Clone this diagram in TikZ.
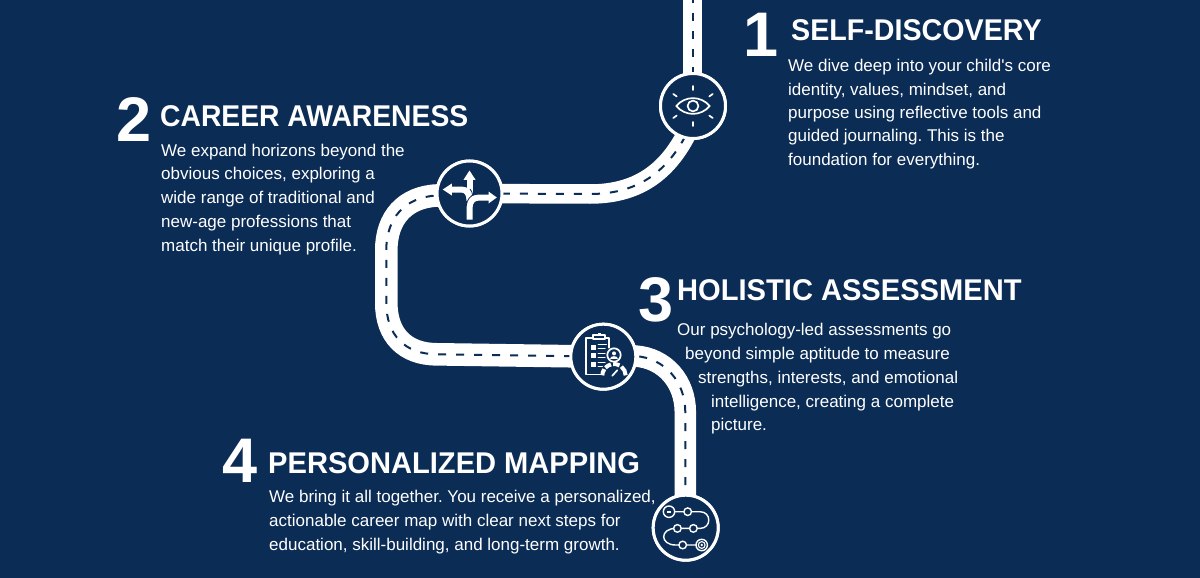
\documentclass[tikz,border=0pt]{standalone}
\usepackage{fontspec}
\setmainfont{Liberation Sans}
\newfontfamily\plainbody{Liberation Sans}
\newfontfamily\headA[FakeStretch=0.955]{Liberation Sans}
\newfontfamily\headB[FakeStretch=0.943]{Liberation Sans}
\newfontfamily\headC[FakeStretch=0.97]{Liberation Sans}
\frenchspacing
\definecolor{navy}{HTML}{0B2C55}
\tikzset{
  x=1pt,y=-1pt,
  lane/.style={draw=navy,line width=2pt,dash pattern=on 8pt off 10pt},
  hub/.style={circle,draw=white,line width=3pt,fill=navy,minimum size=65pt,inner sep=0pt},
  num/.style={text=white,font=\fontsize{63}{63}\selectfont\bfseries,inner sep=0pt,anchor=base west},
  head/.style={text=white,font=\fontsize{30}{30}\selectfont\bfseries,inner sep=0pt,anchor=base west},
  body/.style={text=white,font=\fontsize{17}{23.7}\selectfont,inner sep=0pt,anchor=base west,align=left},
  ico/.style={draw=white,line width=1.7pt,line cap=round,line join=round},
  thin/.style={draw=white,line width=1.4pt,line cap=round},
  arrowline/.style={draw=white,line width=6pt},
  gauge/.style={draw=white,line width=4pt},
}
\begin{document}
\begin{tikzpicture}
\useasboundingbox (0,0) rectangle (1200,578);
\fill[navy] (0,0) rectangle (1200,578);
\coordinate (top) at (692.5,-5);
\node[hub] (h1) at (693,106) {};
\node[hub] (h2) at (469.5,193.5) {};
\node[hub] (h3) at (603.3,356.7) {};
\node[hub] (h4) at (685.7,527.7) {};
\draw[white,line width=19.5pt] (top) -- (692.5,106);
\draw[white,line width=19.5pt] (693,120) .. controls (672,170) and (640,194) .. (590,194) -- (h2.center);
\draw[white,line width=22.6pt] (h2.center) -- (437,195.5) .. controls (405,197) and (386.3,218) .. (386.3,250) -- (386.3,303) .. controls (386.3,335) and (405,354.3) .. (437,354.3) -- (h3.center);
\draw[white,line width=21.5pt] (h3.center) -- (635,356) .. controls (665,358) and (685.3,382) .. (685.3,412) -- (685.3,527.7);
\draw[lane] (top) -- (692.5,106);
\draw[lane] (693,120) .. controls (672,170) and (640,194) .. (590,194) -- (h2.center);
\draw[lane] (h2.center) -- (437,195.5) .. controls (405,197) and (386.3,218) .. (386.3,250) -- (386.3,303) .. controls (386.3,335) and (405,354.3) .. (437,354.3) -- (h3.center);
\draw[lane] (h3.center) -- (635,356) .. controls (665,358) and (685.3,382) .. (685.3,412) -- (685.3,527.7);
\foreach \n in {h1,h2,h3,h4}{\node[hub] at (\n) {};}
% eye
\begin{scope}[shift={(h1)}]
\draw[ico] (-16.7,0) .. controls (-8,-10.5) and (8,-10.5) .. (16.7,0) .. controls (8,10.5) and (-8,10.5) .. (-16.7,0) -- cycle;
\draw[ico] (0,0) circle (5.4);
\draw[ico] (0,-20) -- (0,-16) (0,16) -- (0,20) (-19.7,-12) -- (-16.3,-9.6) (19.7,-12) -- (16.3,-9.6) (-19.7,12) -- (-16.3,9.6) (19.7,12) -- (16.3,9.6);
\end{scope}
% arrows
\begin{scope}[shift={(h2)}]
\draw[arrowline] (0,-14) -- (0,10);
\draw[arrowline] (-18,-4) -- (-8,-4) .. controls (-3,-4) and (0,0) .. (0,7);
\draw[navy,line width=.8pt] (0.5,-4.5) .. controls (2,-3) and (3,-0.5) .. (3.2,2);
\draw[arrowline] (0,26) -- (0,15) .. controls (0,8) and (3,4) .. (10,4) -- (20,4);
\draw[navy,line width=.8pt] (-3.2,12) .. controls (-2.5,6) and (1,1.8) .. (6,0.5);
\fill[white] (19,-2) -- (27.3,4) -- (19,10) -- cycle;
\fill[white] (-17.7,-10) -- (-26.7,-4) -- (-17.7,2) -- cycle;
\fill[white] (-6,-13.7) -- (0,-23) -- (6,-13.7) -- cycle;
\end{scope}
% clipboard
\begin{scope}[shift={(h3)}]
\draw[ico] (-4,-19) -- (-17,-19) -- (-17,17.7) -- (0,17.7);
\draw[ico] (-4,-19) -- (5.5,-19) -- (5.5,-9);
\draw[ico,fill=navy] (-10,-20) -- (-10,-22) -- (2,-22) -- (2,-18) -- (-10,-18) -- cycle;
\fill[white] (-5.5,-24) rectangle (-2.5,-21);
\fill[white] (-12.7,-11.7) rectangle (-7.7,-7);
\fill[white] (-12.7,-3.3) rectangle (-7.7,1.7);
\fill[white] (-12.7,5) rectangle (-7.7,10);
\draw[thin] (-5,-12) -- (3,-12) (-5,-8.5) -- (1.7,-8.5) (-5,-3) -- (1.7,-3) (-5,0.5) -- (1.7,0.5) (-5,6) -- (1.7,6) (-5,9.5) -- (-1,9.5);
\draw[ico,fill=navy] (10.7,-1.7) circle (6.7);
\fill[white] (10.7,-3.3) circle (2);
\fill[white] (6.7,2.2) .. controls (7,-1.5) and (14.4,-1.5) .. (14.7,2.2) -- cycle;
\coordinate (gc) at (10.7,19);
\foreach \a/\b in {178/146,137/105,94/62,51/2}{
  \path[gauge] (gc) ++(-\a:11.7) arc[start angle=-\a,end angle=-\b,radius=11.7];
}
\draw[ico] (9,19) -- (14,13.5);
\end{scope}
% route
\begin{scope}[shift={(h4)}]
\draw[thin] (-11,-16) -- (14.3,-16) .. controls (26,-16) and (26,0.7) .. (14.3,0.7) -- (-10,0.7)
 .. controls (-26,0.7) and (-26,17.3) .. (-10,17.3) -- (11,17.3);
\draw[thin,fill=navy] (-16.7,-16) circle (5.7);
\fill[white] (-19,-17) rectangle (-15,-15);
\draw[thin,fill=navy] (2,-16) circle (3.8);
\draw[thin,fill=navy] (-8.3,0.7) circle (3.8);
\draw[thin,fill=navy] (7.7,0.7) circle (3.8);
\draw[thin,fill=navy] (-3,17.3) circle (3.8);
\draw[thin,fill=navy] (16,17.3) circle (5.7);
\draw[thin,line width=1.1pt] (16,17.3) circle (3.4);
\fill[white] (16,17.3) circle (1.3);
\end{scope}
% text
\node[num] (n1) at (743,57) {1};
\node[head,font=\headA\fontsize{30}{30}\selectfont\bfseries] (t1) at (791,41) {SELF-DISCOVERY};
\node[body,font=\plainbody\fontsize{17}{23.3}\selectfont] (b1) at (788,165) {We dive deep into your child's core\\identity, values, mindset, and\\purpose using reflective tools and\\guided journaling. This is the\\foundation for everything.};
\node[num] (n2) at (116,141) {2};
\node[head,font=\headB\fontsize{30}{30}\selectfont\bfseries] (t2) at (160,126) {CAREER AWARENESS};
\node[body] (b2) at (161,251) {We expand horizons beyond the\\obvious choices, exploring a\\wide range of traditional and\\new-age professions that\\match their unique profile.};
\node[num] (n3) at (638,321) {3};
\node[head,font=\headC\fontsize{30}{30}\selectfont\bfseries] (t3) at (677,300) {HOLISTIC ASSESSMENT};
\node[body] (b31) at (677,335) {Our psychology-led assessments go};
\node[body] (b32) at (685,359) {beyond simple aptitude to measure};
\node[body] (b33) at (698,383) {strengths, interests, and emotional};
\node[body] (b34) at (711,407) {intelligence, creating a complete};
\node[body] (b35) at (711,430) {picture.};
\node[num] (n4) at (222,482) {4};
\node[head,font=\headC\fontsize{30}{30}\selectfont\bfseries] (t4) at (268,473) {PERSONALIZED MAPPING};
\node[body] (b4) at (269,550) {We bring it all together. You receive a personalized,\\actionable career map with clear next steps for\\education, skill-building, and long-term growth.};
\end{tikzpicture}
\end{document}
